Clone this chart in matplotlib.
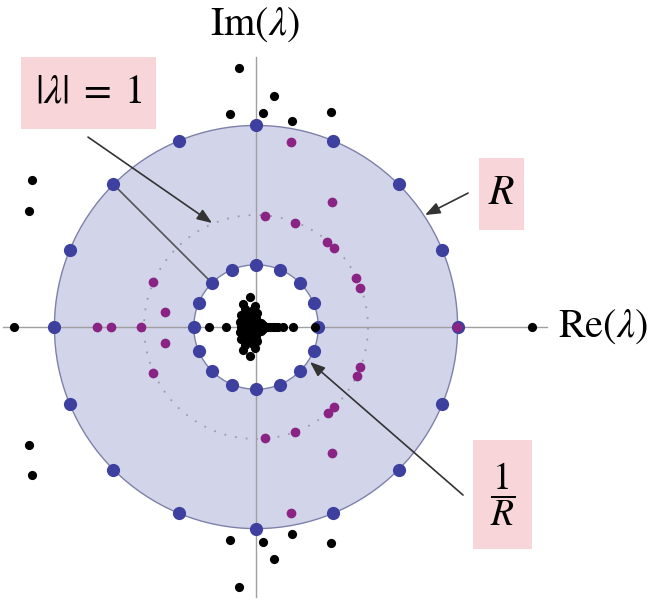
import numpy as np
import matplotlib.pyplot as plt
from matplotlib.patches import Circle, Rectangle

plt.rcParams['mathtext.fontset'] = 'stix'
plt.rcParams['font.family'] = 'STIXGeneral'

# Radius of the outer ring (inner ring sits at 1/R)
R = 1.8
ring_angles = [0, 22.5, 45, 67.5, 90, 112.5, 135, 157.5,
               180, 202.5, 225, 247.5, 270, 292.5, 315, 337.5]

# Eigenvalues inside the annulus
purple_re = [0.312, 0.679, 0.080, 0.348, 0.634, 0.696, 0.893, 0.929, -0.920, -0.812,
             0.312, 0.679, 0.080, 0.348, 0.643, 0.696, 0.902, 0.929, -0.920, -0.812,
             -1.420, -1.295, -1.027, 1.795]
purple_im = [1.652, 1.116, 0.991, 0.929, 0.759, 0.705, 0.438, 0.348, 0.402, 0.134,
             -1.661, -1.125, -0.991, -0.938, -0.768, -0.714, -0.438, -0.357, -0.411, -0.143,
             0.0, 0.0, 0.0, 0.0]

# Eigenvalues outside the outer ring
outer_re = [-0.152, 0.161, -0.232, 0.062, 0.321, 0.670, -2.000, -2.027,
            -0.152, 0.161, -0.232, 0.062, 0.321, 0.670, -2.000, -2.027,
            -2.161, 2.464]
outer_im = [2.312, 2.062, 1.902, 1.911, 1.839, 1.920, 1.312, 1.036,
            -2.321, -2.071, -1.902, -1.920, -1.848, -1.929, -1.321, -1.054,
            0.0, 0.0]

# Eigenvalues inside the inner ring (dense cluster near the origin)
inner_re = [-0.054, -0.116, -0.009, -0.134, -0.062, 0.009, -0.100, -0.030,
            -0.143, -0.080, -0.018, 0.045, -0.120, -0.060, 0.000, 0.060,
            -0.054, -0.116, -0.009, -0.134, -0.062, 0.009, -0.100, -0.030,
            -0.143, -0.080, -0.018, 0.045, -0.120, -0.060, 0.000, 0.060,
            -0.130, -0.107, -0.070, -0.036, 0.000, 0.036, 0.070, 0.089, 0.110,
            0.125, 0.150, 0.170, 0.200, 0.241, 0.330, 0.527,
            -0.420, -0.268]
inner_im = [0.268, 0.205, 0.188, 0.107, 0.125, 0.125, 0.160, 0.150,
            0.045, 0.062, 0.045, 0.036, 0.085, 0.090, 0.080, 0.020,
            -0.259, -0.205, -0.188, -0.107, -0.125, -0.125, -0.160, -0.150,
            -0.045, -0.062, -0.045, -0.036, -0.085, -0.090, -0.080, -0.020,
            0.0, 0.0, 0.0, 0.0, 0.0, 0.0, 0.0, 0.0, 0.0,
            0.0, 0.0, 0.0, 0.0, 0.0, 0.0, 0.0,
            0.0, 0.0]

fig = plt.figure(figsize=(6.57, 6.04), dpi=100)
ax = fig.add_axes([0, 0, 1, 1])
ax.set_xlim(-2.286, 3.580)
ax.set_ylim(-2.473, 2.920)
ax.axis('off')

# annulus between 1/R and R
ax.add_patch(Circle((0, 0), R, facecolor='#d2d5ea', edgecolor='#7e80aa', lw=1.0, zorder=1))
ax.add_patch(Circle((0, 0), 1 / R, facecolor='white', edgecolor='#7e80aa', lw=1.0, zorder=1))
ax.add_patch(Circle((0, 0), 1.0, fill=False, edgecolor='#9a9aa8', lw=1.3,
                    linestyle=(0, (1, 5)), zorder=2))

# axes
ax.plot([-2.26, 2.60], [0, 0], color='#a0a0a0', lw=1.0, zorder=2)
ax.plot([0, 0], [-2.41, 2.41], color='#a0a0a0', lw=1.0, zorder=2)

# line joining the two rings
th = np.deg2rad(135)
ax.plot([R * np.cos(th), np.cos(th) / R], [R * np.sin(th), np.sin(th) / R],
        color='#555555', lw=1.2, zorder=2)

ang = np.deg2rad(ring_angles)
ax.plot(R * np.cos(ang), R * np.sin(ang), 'o', color='#3e40a0', ms=9.5, mew=0, zorder=3)
ax.plot(np.cos(ang) / R, np.sin(ang) / R, 'o', color='#3e40a0', ms=9.5, mew=0, zorder=3)
ax.plot(purple_re, purple_im, 'o', color='#8a2383', ms=7.0, mew=0, zorder=4)
ax.plot(outer_re, outer_im, 'o', color='black', ms=6.6, mew=0, zorder=4)
ax.plot(inner_re, inner_im, 'o', color='black', ms=6.6, mew=0, zorder=4)

# axis labels
ax.text(-0.009, 2.696, r'$\mathrm{Im}(\lambda)$', fontsize=29, ha='center', va='center')
ax.text(2.696, 0.0, r'$\mathrm{Re}(\lambda)$', fontsize=29, ha='left', va='center')

# labelled boxes with arrows
pink = '#f8d5d8'
ax.add_patch(Rectangle((-2.098, 1.768), 1.205, 0.643, facecolor=pink, edgecolor='none', zorder=5))
ax.text(-1.496, 2.089, r'$|\lambda|\;=\;1$', fontsize=29, ha='center', va='center', zorder=6)
ax.add_patch(Rectangle((1.991, 0.866), 0.402, 0.643, facecolor=pink, edgecolor='none', zorder=5))
ax.text(2.192, 1.188, r'$R$', fontsize=30, ha='center', va='center', zorder=6)
ax.add_patch(Rectangle((1.937, -1.982), 0.527, 0.973, facecolor=pink, edgecolor='none', zorder=5))
ax.text(2.201, -1.495, r'$\dfrac{1}{R}$', fontsize=27, ha='center', va='center', zorder=6)

arrow = dict(arrowstyle='-|>,head_length=0.9,head_width=0.35', color='#333333', lw=1.2,
             shrinkA=0, shrinkB=0)
ax.annotate('', xy=(-0.393, 0.929), xytext=(-1.5, 1.696), arrowprops=arrow, zorder=5)
ax.annotate('', xy=(1.509, 1.0), xytext=(1.893, 1.196), arrowprops=arrow, zorder=5)
ax.annotate('', xy=(0.482, -0.312), xytext=(1.848, -1.5), arrowprops=arrow, zorder=5)

plt.savefig('out.png', dpi=100)
